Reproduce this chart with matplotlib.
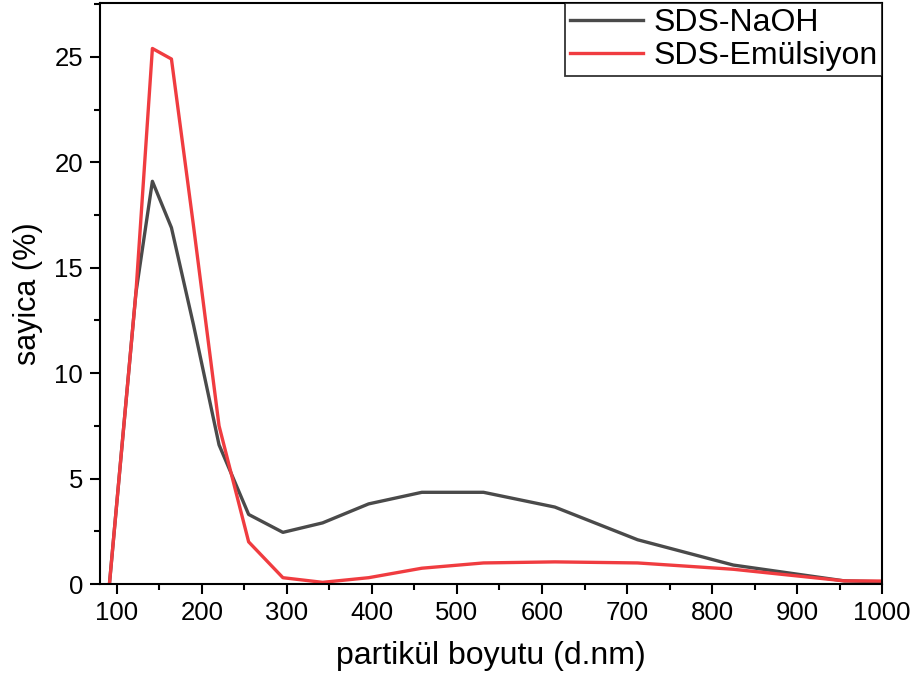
import matplotlib
matplotlib.use("Agg")
import matplotlib.pyplot as plt
from matplotlib.ticker import MultipleLocator

plt.rcParams["font.family"] = ["Liberation Sans", "DejaVu Sans"]

# particle size bins (d.nm) and number distribution (%)
size_nm = [91.28, 105.7, 122.4, 141.8, 164.2, 190.1, 220.2, 255.0, 295.3,
           342.0, 396.1, 458.7, 531.2, 615.1, 712.4, 825.0, 955.4, 1106.0]
sds_naoh = [0.0, 6.4, 13.8, 19.1, 16.9, 12.3, 6.6, 3.3, 2.45,
            2.9, 3.8, 4.35, 4.35, 3.65, 2.1, 0.9, 0.15, 0.0]
sds_emulsiyon = [0.0, 6.4, 13.8, 25.4, 24.9, 17.0, 7.5, 2.0, 0.3,
                 0.08, 0.3, 0.75, 1.0, 1.05, 1.0, 0.7, 0.15, 0.12]

GRAY = "#4a4a4a"
RED = "#f03c40"

fig = plt.figure(figsize=(9.16, 6.81), dpi=100)
ax = fig.add_axes([0.109, 0.1424, 0.854, 0.853])

ax.plot(size_nm, sds_naoh, color=GRAY, lw=2.4, label="SDS-NaOH")
ax.plot(size_nm, sds_emulsiyon, color=RED, lw=2.4, label="SDS-Emülsiyon")

ax.set_xlim(80, 1000)
ax.set_ylim(0, 27.55)
ax.xaxis.set_major_locator(MultipleLocator(100))
ax.xaxis.set_minor_locator(MultipleLocator(50))
ax.yaxis.set_major_locator(MultipleLocator(5))
ax.yaxis.set_minor_locator(MultipleLocator(2.5))
ax.tick_params(which="major", direction="out", length=7, width=1.5,
               labelsize=18.5, pad=5)
ax.tick_params(which="minor", direction="out", length=4, width=1.5)
for s in ax.spines.values():
    s.set_linewidth(1.5)

ax.set_xlabel("partikül boyutu (d.nm)", fontsize=23, labelpad=12)
ax.set_ylabel("sayica (%)", fontsize=22, labelpad=8)

leg = ax.legend(loc="upper right", fontsize=23, frameon=True, fancybox=False,
                borderaxespad=0, borderpad=0.15, handlelength=2.3,
                handletextpad=0.3, labelspacing=0.1)
leg.get_frame().set_edgecolor("black")
leg.get_frame().set_linewidth(1.3)

fig.savefig("out.png", dpi=100)
